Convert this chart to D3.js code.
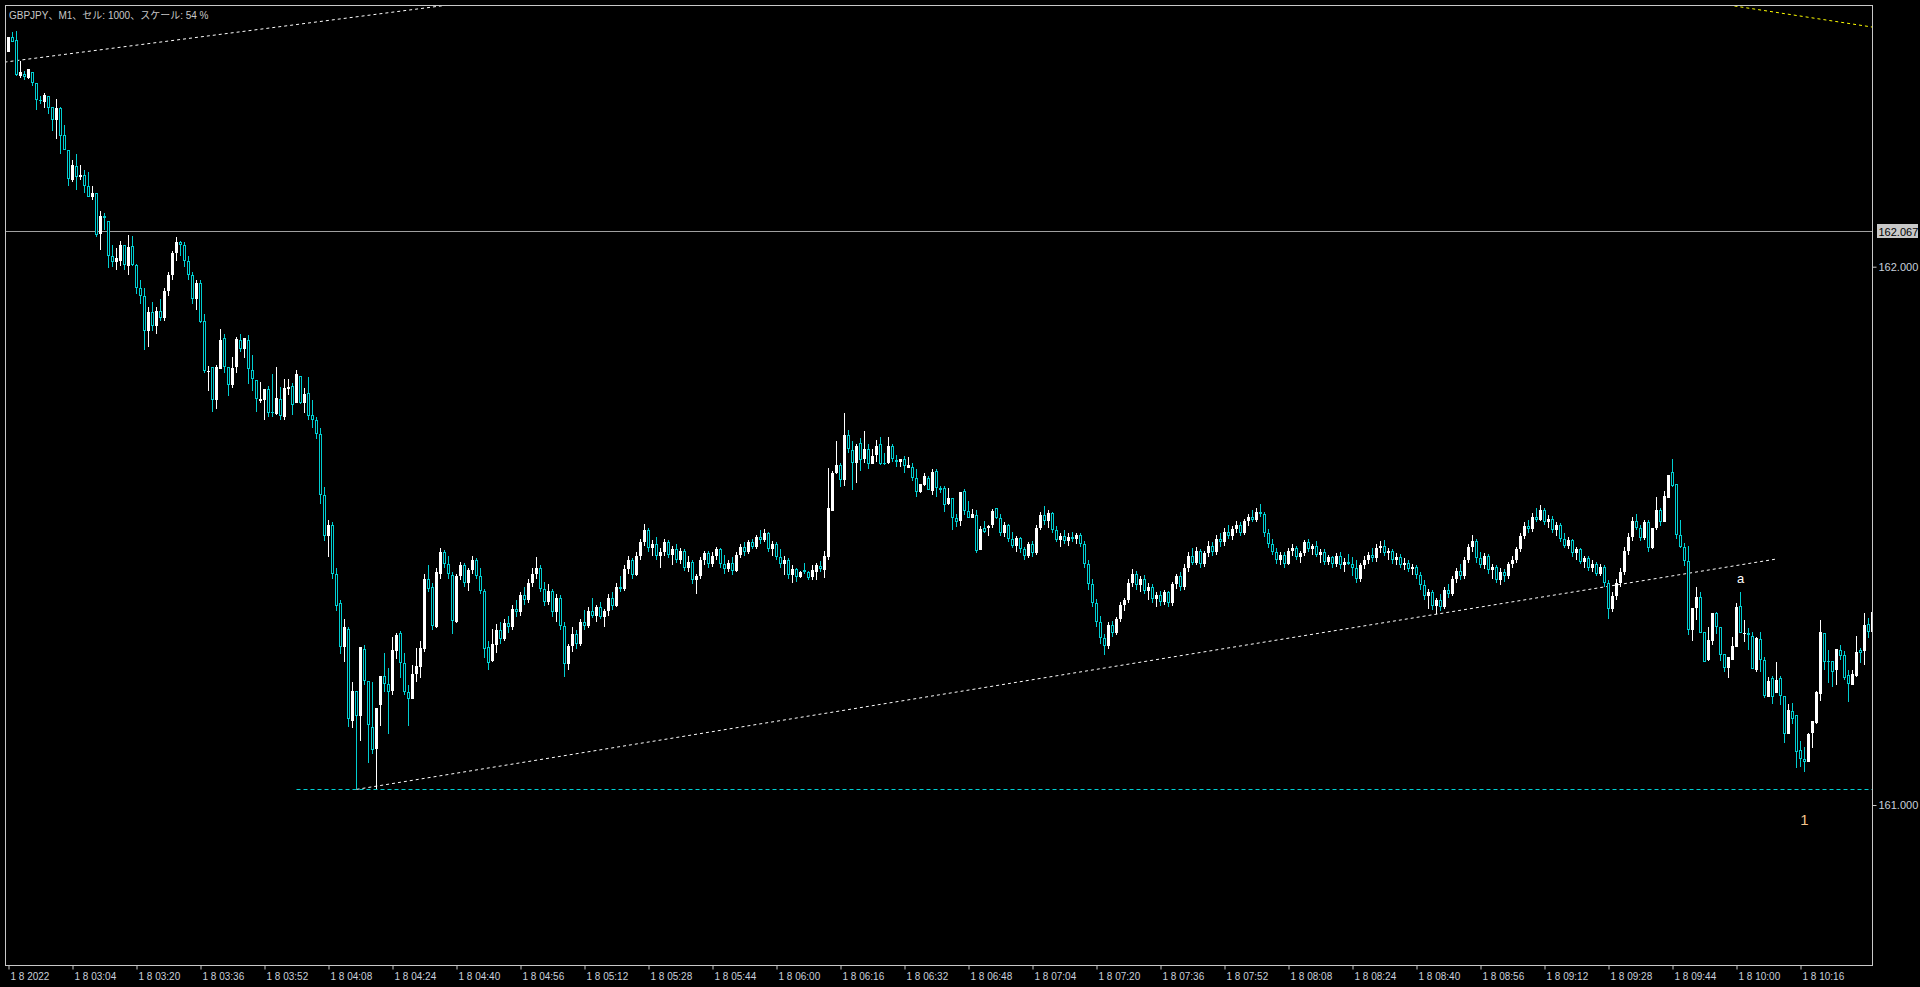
<!DOCTYPE html>
<html><head><meta charset="utf-8">
<script src="https://cdn.jsdelivr.net/npm/d3@7"></script>
<style>html,body{margin:0;padding:0;background:#000;overflow:hidden}svg{display:block}</style>
</head><body>
<svg id="chart" width="1920" height="987"></svg>
<script>
// ---- DATA ----
// prices are stored in points above 161.000 (1 point = 0.001 JPY)
const basePrice = 161.000;
const titleText = "GBPJPY、M1、セル: 1000、スケール: 54 %";
const timeLabels = ["1 8 2022","1 8 03:04","1 8 03:20","1 8 03:36","1 8 03:52","1 8 04:08","1 8 04:24","1 8 04:40","1 8 04:56","1 8 05:12","1 8 05:28","1 8 05:44","1 8 06:00","1 8 06:16","1 8 06:32","1 8 06:48","1 8 07:04","1 8 07:20","1 8 07:36","1 8 07:52","1 8 08:08","1 8 08:24","1 8 08:40","1 8 08:56","1 8 09:12","1 8 09:28","1 8 09:44","1 8 10:00","1 8 10:16"];
const timeTickBars = [0,16,32,48,64,80,96,112,128,144,160,176,192,208,224,240,256,272,288,304,320,336,352,368,384,400,416,432,448];
const priceTicks = [161.000, 162.000];
const currentPrice = 162.067;
const supportPrice = 161.029;

// one [open, high, low, close] per M1 bar, from 02:48
const candleOHLC = [
[1399,1427,1399,1427],[1427,1436,1418,1418],[1421,1438,1354,1356],[1354,1383,1351,1362],[1358,1364,1347,1353],[1351,1367,1349,1367],[1362,1362,1336,1341],[1341,1341,1292,1309],[1310,1317,1302,1307],[1306,1322,1294,1319],
[1317,1317,1284,1295],[1296,1296,1253,1273],[1273,1312,1237,1295],[1295,1297,1210,1243],[1245,1263,1216,1216],[1217,1217,1150,1162],[1161,1198,1157,1188],[1187,1209,1142,1166],[1166,1188,1161,1171],[1170,1180,1136,1149],
[1149,1176,1130,1130],[1129,1150,1124,1137],[1137,1137,1055,1059],[1061,1103,1031,1094],[1094,1100,1068,1090],[1085,1085,998,1019],[1020,1040,1000,1009],[1009,1035,994,1016],[1011,1048,1001,1040],[1040,1040,994,1003],
[1002,1059,985,1037],[1038,1057,1001,1003],[1003,1005,950,960],[960,975,930,945],[945,960,845,880],[880,925,850,915],[915,935,880,890],[890,925,875,918],[918,940,900,905],[905,960,900,955],
[955,990,945,985],[985,1030,975,1025],[1025,1055,1010,1045],[1045,1048,1020,1040],[1040,1045,1000,1010],[1010,1020,975,985],[985,990,930,940],[940,975,920,970],[970,975,895,898],[899,912,802,807],
[804,815,770,807],[814,814,731,752],[752,817,736,814],[810,884,810,864],[868,875,802,814],[814,814,759,780],[780,832,775,812],[814,870,802,866],[864,875,842,848],[848,868,831,868],
[864,873,782,810],[808,836,770,791],[790,790,731,755],[751,786,747,755],[752,773,715,773],[773,778,721,729],[730,801,721,728],[726,814,724,756],[754,777,715,723],[721,791,715,775],
[773,791,762,777],[778,784,724,744],[747,808,747,801],[797,797,745,747],[747,775,728,764],[765,795,715,723],[724,752,700,715],[715,720,680,690],[690,700,560,575],[575,590,490,500],
[500,530,460,520],[520,525,420,430],[430,440,360,370],[375,380,280,293],[293,345,265,330],[327,331,145,160],[156,228,143,211],[212,212,29,166],[166,293,119,293],[290,297,223,231],
[231,231,78,149],[145,228,95,103],[104,181,29,180],[186,240,147,240],[240,283,210,224],[224,254,131,210],[212,312,205,288],[287,319,272,316],[319,323,236,263],[263,282,205,209],
[209,223,147,197],[197,260,197,243],[244,292,229,258],[257,305,236,292],[290,430,285,420],[420,445,395,402],[405,412,325,333],[331,440,328,432],[430,478,420,470],[470,474,440,448],
[448,462,420,430],[428,432,318,342],[340,430,338,425],[425,452,418,445],[445,450,405,412],[412,440,398,436],[436,462,430,455],[455,458,420,425],[425,440,392,398],[398,402,274,290],
[293,304,251,264],[267,327,265,299],[297,336,283,325],[325,340,300,308],[308,345,305,338],[338,352,320,330],[330,372,325,365],[365,380,350,358],[358,395,352,390],[390,405,372,380],
[380,420,375,412],[412,440,405,430],[430,460,420,440],[440,445,395,402],[402,415,370,378],[378,410,372,398],[398,402,350,358],[358,392,340,385],[385,390,325,332],[332,340,237,262],
[262,300,250,295],[295,330,285,318],[318,325,290,300],[300,345,295,340],[340,362,325,332],[332,368,328,360],[360,385,348,352],[352,372,340,368],[368,378,345,350],[350,365,330,360],
[360,392,352,385],[385,395,362,370],[370,412,368,405],[405,425,395,402],[402,445,398,438],[438,462,430,455],[455,458,420,428],[428,470,425,462],[462,495,455,488],[488,522,482,510],
[510,515,470,478],[478,492,462,485],[485,498,455,462],[462,478,440,470],[470,495,462,488],[488,492,458,465],[465,482,445,475],[475,485,450,455],[455,478,448,472],[472,476,435,440],
[440,462,432,452],[452,455,410,418],[418,430,392,425],[425,460,420,455],[455,472,445,468],[468,472,440,448],[448,470,442,462],[462,480,455,475],[475,478,440,448],[448,465,430,438],
[438,455,432,450],[450,460,428,435],[435,470,432,465],[465,485,458,480],[480,488,462,470],[470,492,466,488],[488,495,475,480],[480,502,475,498],[498,510,485,492],[492,512,488,505],
[505,508,470,476],[476,490,462,485],[485,488,455,460],[460,475,440,448],[448,462,428,455],[455,458,420,428],[428,445,412,438],[438,440,415,424],[424,434,422,432],[437,449,430,433],
[433,435,418,421],[423,445,418,437],[432,450,418,445],[444,453,433,438],[437,471,421,463],[461,626,456,552],[546,620,546,617],[617,676,615,632],[632,636,591,604],[604,728,592,687],
[687,697,653,661],[660,676,586,636],[635,671,598,667],[672,682,621,641],[642,695,635,661],[661,671,625,633],[633,661,633,648],[650,678,638,666],[671,684,632,633],[636,654,632,633],
[635,683,634,667],[667,671,637,642],[641,650,627,638],[637,643,628,643],[643,648,617,629],[626,646,626,632],[628,635,601,608],[607,624,573,581],[581,596,580,596],[594,617,592,611],
[607,611,585,585],[584,624,575,619],[621,624,573,588],[589,593,580,585],[588,593,544,558],[559,589,557,570],[570,570,511,533],[533,541,517,526],[528,581,518,581],[584,587,539,547],
[547,565,534,534],[534,550,534,541],[539,548,469,471],[474,518,474,513],[515,528,505,507],[514,521,499,519],[521,550,515,546],[552,552,532,533],[533,540,500,505],[505,525,498,520],
[520,522,488,495],[495,508,478,482],[482,500,470,496],[496,498,468,475],[475,480,455,462],[462,488,458,484],[484,490,460,468],[468,520,465,515],[515,545,510,538],[538,555,520,528],
[528,548,515,542],[542,545,505,510],[510,518,488,492],[492,505,480,500],[500,510,485,490],[490,505,482,498],[498,508,488,495],[495,506,485,502],[502,505,480,484],[484,490,440,448],
[448,455,400,410],[410,420,368,375],[375,382,330,340],[340,352,300,310],[310,318,278,295],[295,340,290,335],[335,342,312,320],[320,350,315,345],[345,378,340,372],[372,385,360,380],
[380,420,375,412],[412,438,405,430],[430,435,400,408],[408,425,395,420],[420,428,392,398],[398,412,380,405],[405,410,375,382],[382,395,368,390],[390,398,370,378],[378,400,372,395],
[395,398,368,375],[375,415,370,410],[410,430,402,425],[425,432,398,405],[405,448,400,440],[440,470,432,462],[462,478,445,450],[450,480,445,472],[472,475,440,448],[448,472,442,468],
[468,490,460,482],[482,488,462,470],[470,502,465,495],[495,505,480,488],[488,515,482,508],[508,520,495,500],[500,518,492,512],[512,528,505,520],[520,525,500,506],[506,532,502,528],
[528,540,518,535],[535,548,525,530],[530,552,526,545],[545,560,535,540],[540,545,498,505],[505,512,478,485],[485,495,465,470],[470,478,448,455],[455,470,445,465],[465,470,440,448],
[448,478,445,472],[472,485,462,478],[478,482,455,460],[460,472,450,468],[468,492,462,488],[488,495,470,475],[475,485,465,482],[482,490,460,465],[465,475,450,470],[470,476,445,452],
[452,465,445,460],[460,462,440,448],[448,468,442,462],[462,470,438,445],[445,458,432,452],[452,466,445,448],[448,460,425,440],[440,455,412,420],[420,450,415,445],[445,462,438,455],
[455,470,448,465],[465,478,452,458],[458,485,452,478],[478,490,468,482],[482,492,462,468],[468,478,455,472],[472,476,448,455],[455,468,445,460],[460,466,440,446],[446,458,436,450],
[450,455,432,438],[438,448,428,442],[442,446,420,428],[428,432,400,408],[408,418,380,388],[388,402,365,395],[395,400,362,370],[370,385,355,380],[380,392,360,368],[368,405,365,400],
[400,410,385,392],[392,425,388,420],[420,440,412,435],[435,448,418,425],[425,460,420,455],[455,485,450,480],[480,501,470,490],[490,495,450,458],[458,470,440,445],[445,468,438,462],
[462,466,430,436],[436,448,420,442],[442,446,412,418],[418,440,408,432],[432,438,415,425],[425,452,420,448],[448,462,440,455],[455,480,450,475],[475,505,470,500],[500,525,495,518],
[518,530,505,512],[512,542,508,535],[535,552,525,530],[530,558,528,548],[548,552,520,526],[526,538,515,532],[532,536,505,510],[510,525,500,520],[520,524,488,495],[495,505,478,482],
[482,498,475,492],[492,495,460,468],[468,480,455,475],[475,478,448,452],[452,462,440,458],[458,462,435,440],[440,455,432,448],[448,452,425,430],[430,448,425,442],[442,446,405,412],
[412,418,346,365],[365,395,358,388],[388,420,380,412],[412,440,405,432],[432,480,428,472],[472,505,465,498],[498,535,490,528],[528,540,510,515],[515,520,490,496],[496,530,492,525],
[525,530,470,478],[477,515,475,515],[514,573,511,548],[548,552,518,526],[526,583,526,574],[571,613,571,613],[618,643,591,593],[596,596,494,502],[502,529,477,479],[480,487,444,454],
[453,482,316,325],[325,366,305,366],[366,405,344,387],[386,395,319,319],[321,321,265,265],[270,330,268,306],[305,356,297,356],[357,358,318,331],[331,331,267,279],[280,280,248,255],
[255,275,235,275],[269,312,269,295],[294,376,294,368],[370,395,319,319],[318,343,303,320],[319,329,288,315],[314,321,252,252],[251,312,248,310],[308,321,248,269],[270,275,198,203],
[201,238,201,231],[235,240,188,201],[208,266,208,232],[236,240,185,202],[202,202,116,131],[131,187,131,176],[175,189,150,160],[167,167,68,99],[102,119,71,85],[85,108,62,80],
[80,134,80,132],[133,156,105,156],[153,212,150,210],[206,344,194,321],[319,319,251,266],[267,288,227,265],[267,267,220,248],[251,289,222,289],[288,297,269,277],[279,286,232,236],
[241,251,192,224],[223,251,223,243],[240,314,238,284],[288,292,263,282],[287,357,260,335],[337,347,310,322],[322,360,320,358]
];

// drawn objects: [bar index, points]
const topLeftTrend = [[-1, 1380], [115, 1491]];
const topRightTrend = [[430, 1486], [467, 1444]];
const riseTrend = [[87, 29], [442, 457]];
const supportStartBar = 72;
const labelA = {bar: 433, pts: 412, text: "a"};
const label1 = {bar: 449, pts: -37, text: "1"};

// ---- BUILD ----
const bars = candleOHLC.map((d, i) => ({i, o: d[0], h: d[1], l: d[2], c: d[3]}));

const W = 1920, H = 987;
const plotL = 6, plotT = 6, plotR = 1872, plotB = 965;
const svg = d3.select("#chart");
svg.append("rect").attr("width", W).attr("height", H).attr("fill", "#000");

const x = d3.scaleLinear().domain([0, 466]).range([8.5, 1872.5]);
const y = d3.scaleLinear().domain([161, 162]).range([805, 266.7]);
const P = v => basePrice + v / 1000;

svg.append("defs").append("clipPath").attr("id", "clip")
  .append("rect").attr("x", plotL).attr("y", plotT).attr("width", plotR - plotL).attr("height", plotB - plotT);

const g = svg.append("g").attr("clip-path", "url(#clip)");
const CYAN = "#00ced1";

// current price line
const cpY = Math.round(y(currentPrice)) + 0.5;
g.append("line").attr("x1", plotL).attr("x2", plotR).attr("y1", cpY).attr("y2", cpY)
  .attr("stroke", "#a0a0a0").attr("stroke-width", 1);

// support dashed line
const spY = Math.round(y(supportPrice)) + 0.5;
g.append("line").attr("x1", x(supportStartBar)).attr("x2", plotR).attr("y1", spY).attr("y2", spY)
  .attr("stroke", CYAN).attr("stroke-width", 1).attr("stroke-dasharray", "4,3");

function trend(pts, color) {
  g.append("line")
    .attr("x1", x(pts[0][0])).attr("y1", y(P(pts[0][1])))
    .attr("x2", x(pts[1][0])).attr("y2", y(P(pts[1][1])))
    .attr("stroke", color).attr("stroke-width", 1).attr("stroke-dasharray", "3,3");
}
trend(topLeftTrend, "#ffffff");
trend(topRightTrend, "#ffff00");
trend(riseTrend, "#ffffff");

// candles
const cg = g.append("g");
bars.forEach(b => {
  const cx = x(b.i);
  const up = b.c >= b.o;
  const col = up ? "#ffffff" : CYAN;
  const yh = Math.round(y(P(b.h))), yl = Math.round(y(P(b.l)));
  cg.append("line").attr("x1", cx).attr("x2", cx).attr("y1", yh).attr("y2", Math.max(yl, yh + 1))
    .attr("stroke", col).attr("stroke-width", 1);
  const yt = Math.round(y(P(Math.max(b.o, b.c)))), yb = Math.round(y(P(Math.min(b.o, b.c))));
  const hgt = Math.max(1, yb - yt);
  if (up) {
    cg.append("rect").attr("x", cx - 1.5).attr("y", yt).attr("width", 3).attr("height", hgt).attr("fill", "#ffffff");
  } else if (hgt <= 2) {
    cg.append("rect").attr("x", cx - 1.5).attr("y", yt).attr("width", 3).attr("height", hgt).attr("fill", CYAN);
  } else {
    cg.append("rect").attr("x", cx - 1).attr("y", yt + 0.5).attr("width", 2).attr("height", hgt - 1)
      .attr("fill", "#000").attr("stroke", CYAN).attr("stroke-width", 1);
  }
});

// text objects
g.append("text").attr("x", x(labelA.bar)).attr("y", y(P(labelA.pts))).attr("text-anchor", "middle")
  .attr("fill", "#ffffff").style("font", "13px 'Liberation Sans', Arial, sans-serif").text(labelA.text);
g.append("text").attr("x", x(label1.bar)).attr("y", y(P(label1.pts))).attr("text-anchor", "middle")
  .attr("fill", "#f2c48c").style("font", "15px 'Liberation Sans', Arial, sans-serif").text(label1.text);

// frame
svg.append("rect").attr("x", 5.5).attr("y", 5.5).attr("width", plotR - 5).attr("height", plotB - 5)
  .attr("fill", "none").attr("stroke", "#c8c8c8").attr("stroke-width", 1);

// price axis
const yAxis = d3.axisRight(y).tickValues(priceTicks).tickFormat(d3.format(".3f")).tickSize(4).tickPadding(2);
const gy = svg.append("g").attr("transform", `translate(${plotR + 0.5},0)`).call(yAxis);
gy.select(".domain").remove();
gy.selectAll(".tick line").attr("stroke", "#c8c8c8");
gy.selectAll(".tick text").attr("fill", "#c8d0dc").style("font", "11px 'Liberation Sans', Arial, sans-serif");

// current price label
svg.append("rect").attr("x", 1877).attr("y", cpY - 7.5).attr("width", 41).attr("height", 14).attr("fill", "#c8c8c8");
svg.append("text").attr("x", 1878.5).attr("y", cpY + 4).attr("fill", "#000")
  .style("font", "11px 'Liberation Sans', Arial, sans-serif").text(d3.format(".3f")(currentPrice));

// time axis
const xAxis = d3.axisBottom(x).tickValues(timeTickBars).tickFormat((d, k) => timeLabels[k]).tickSize(4);
const gx = svg.append("g").attr("transform", `translate(0,${plotB + 0.5})`).call(xAxis);
gx.select(".domain").remove();
gx.selectAll(".tick line").attr("stroke", "#c8c8c8");
gx.selectAll(".tick text").attr("fill", "#c8d0dc").attr("text-anchor", "start").attr("x", 1.5).attr("y", 14.5).attr("dy", 0)
  .style("font", "10px 'Liberation Sans', Arial, sans-serif");

// title
svg.append("text").attr("x", 9).attr("y", 19).attr("fill", "#c8c8c8")
  .style("font", "10px 'Liberation Sans', 'Noto Sans CJK JP', sans-serif").text(titleText);
</script>
</body></html>
